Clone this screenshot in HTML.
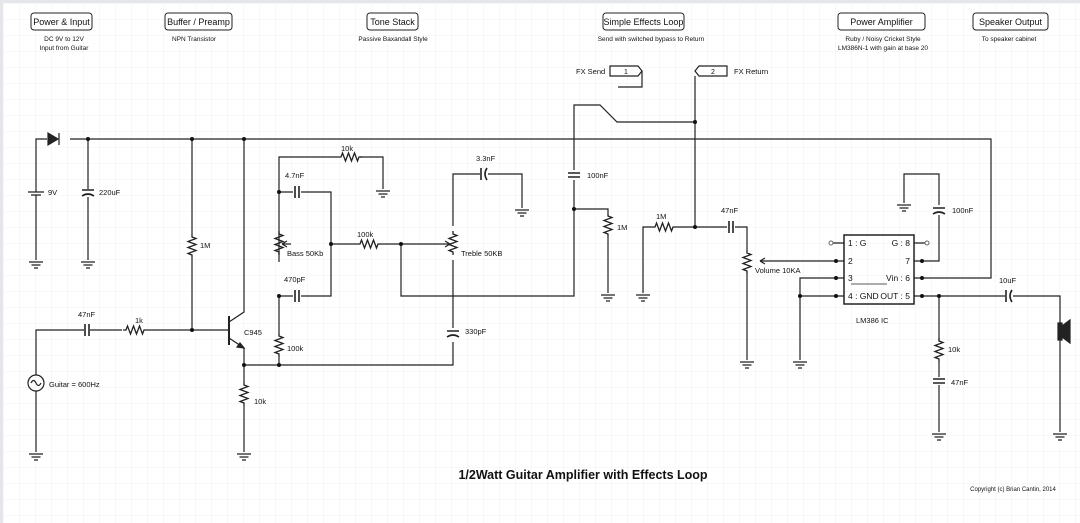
<!DOCTYPE html>
<html><head><meta charset="utf-8"><style>
html,body{margin:0;padding:0;background:#fff}
svg{display:block}
text{font-family:"Liberation Sans",sans-serif;fill:#111}
</style></head><body>
<svg width="1080" height="523" viewBox="0 0 1080 523" xmlns="http://www.w3.org/2000/svg">
<defs>
<pattern id="g" width="16" height="16" patternUnits="userSpaceOnUse" x="4" y="4">
<path d="M16 0V16M0 16H16" fill="none" stroke="#eef0f4" stroke-width="1"/>
</pattern>
<g id="gnd" stroke="#222" stroke-width="1.3" fill="none"><path d="M-7 0H7M-4.5 3H4.5M-2 6H2"/></g>
<path id="rv" d="M0 0v3l4 1.5l-8 3l8 3l-8 3l8 3l-8 3l4 1.5v3" fill="none" stroke="#222" stroke-width="1.3"/>
<path id="rh" d="M0 0h3l1.5 -4l3 8l3 -8l3 8l3 -8l3 8l1.5 -4h3" fill="none" stroke="#222" stroke-width="1.3"/>
<g id="ch" stroke="#222" stroke-width="1.6" fill="none"><path d="M-2 -6V6M2 -6V6"/></g>
<g id="cv" stroke="#222" stroke-width="1.6" fill="none"><path d="M-6 -2H6M-6 2H6"/></g>
<g id="cvp" stroke="#222" stroke-width="1.6" fill="none"><path d="M-6 -2H6M-6 4Q0 0 6 4"/></g>
<g id="chp" stroke="#222" stroke-width="1.6" fill="none"><path d="M-2 -6V6M4 -6Q0 0 4 6"/></g>
</defs>
<rect width="1080" height="523" fill="#fff"/>
<rect x="3" y="3" width="1077" height="520" fill="url(#g)"/>
<rect x="0" y="0" width="1080" height="3" fill="#e4e6ea"/>
<rect x="0" y="0" width="3" height="523" fill="#e4e6ea"/>

<!-- headers -->
<g font-size="9" text-anchor="middle">
<rect x="31" y="13" width="61" height="17" rx="3" fill="#fff" stroke="#222"/><text x="61.5" y="25">Power &amp; Input</text>
<rect x="165" y="13" width="67" height="17" rx="3" fill="#fff" stroke="#222"/><text x="198.5" y="25">Buffer / Preamp</text>
<rect x="367" y="13" width="51" height="17" rx="3" fill="#fff" stroke="#222"/><text x="392.5" y="25">Tone Stack</text>
<rect x="603" y="13" width="81" height="17" rx="3" fill="#fff" stroke="#222"/><text x="643.5" y="25">Simple Effects Loop</text>
<rect x="838" y="13" width="87" height="17" rx="3" fill="#fff" stroke="#222"/><text x="881.5" y="25">Power Amplifier</text>
<rect x="973" y="13" width="75" height="17" rx="3" fill="#fff" stroke="#222"/><text x="1010.5" y="25">Speaker Output</text>
</g>
<g font-size="6.5" text-anchor="middle">
<text x="64" y="41">DC 9V to 12V</text><text x="64" y="50">Input from Guitar</text>
<text x="194" y="41">NPN Transistor</text>
<text x="393" y="41">Passive Baxandall Style</text>
<text x="651" y="41">Send with switched bypass to Return</text>
<text x="883" y="41">Ruby / Noisy Cricket Style</text><text x="883" y="50">LM386N-1 with gain at base 20</text>
<text x="1009" y="41">To speaker cabinet</text>
</g>

<g stroke="#222" stroke-width="1.2" fill="none">
<!-- rail -->
<path d="M36 190V139H47M70 139H991V278H922"/>
<!-- diode -->
<path d="M48 133V145L58 139Z" fill="#222"/><path d="M59 133V145"/>
<!-- battery -->
<path d="M36 190V192M28 192H44M31 195H41M36 195V260"/>
<!-- 220uF -->
<path d="M88 139V189M88 197V260"/>
</g>
<use href="#cvp" x="88" y="192"/>
<use href="#gnd" x="36" y="262"/><use href="#gnd" x="88" y="262"/>

<g stroke="#222" stroke-width="1.2" fill="none">
<!-- input -->
<path d="M36 375V330H84M90 330H122M147 330H229M192 139V234M192 258V330"/>
<circle cx="36" cy="383" r="8"/>
<path d="M31 383q2.5 -5 5 0t5 0"/>
<path d="M36 391V452"/>
<!-- transistor -->
<path d="M229 316V345" stroke-width="2"/>
<path d="M229 322L244 312V139M229 338L244 348V365M244 365V382M244 406V452"/>
<path d="M244 348l-7 -1l3 -4z" fill="#222"/>
<path d="M244 365H453V342M453 328V260"/>
</g>
<use href="#ch" x="87" y="330"/>
<use href="#rh" x="123" y="330"/>
<use href="#rv" x="192" y="234"/>
<use href="#rv" x="244" y="382"/>
<use href="#gnd" x="36" y="454"/><use href="#gnd" x="244" y="454"/>

<!-- tone stack -->
<g stroke="#222" stroke-width="1.2" fill="none">
<path d="M279 365V357M279 333V296M279 262V157H338M360 157H383V189"/>
<path d="M279 192H293M301 192H331V296H301M293 296H279"/>
<path d="M331 244H357M381 244H443M401 244V296H574V180M574 170V105H600L617 122H695"/>
<path d="M453 226V174H480M488 174H522V208"/>
</g>
<use href="#rh" x="338" y="157"/>
<use href="#gnd" x="383" y="191"/>
<use href="#ch" x="297" y="192"/><use href="#ch" x="297" y="296"/>
<use href="#rv" x="279" y="333"/>
<use href="#rh" x="357" y="244"/>
<use href="#chp" x="483" y="174"/>
<use href="#gnd" x="522" y="210"/>
<use href="#cvp" x="453" y="333"/>
<!-- pots -->
<use href="#rv" x="279" y="231"/>
<path d="M291 244H282M282 244l5 -3M282 244l5 3" stroke="#222" stroke-width="1.2" fill="none"/>
<use href="#rv" x="453" y="231"/>
<path d="M443 244H450M450 244l-5 -3M450 244l-5 3" stroke="#222" stroke-width="1.2" fill="none"/>
<use href="#cv" x="574" y="175"/>

<!-- FX -->
<g stroke="#222" stroke-width="1.2" fill="none">
<path d="M574 209H608V213M608 237V293"/>
<path d="M643 293V227H652M676 227H727M735 227H747V250M747 274V360"/>
<path d="M695 227V76"/>
<path d="M610 66H638L642 71L638 76H610Z" fill="#fff"/>
<path d="M642 71V87H618"/>
<path d="M699 66H727V76H699L695 71Z" fill="#fff"/>
</g>
<use href="#rv" x="608" y="213"/>
<use href="#rh" x="652" y="227"/>
<use href="#ch" x="731" y="227"/>
<use href="#rv" x="747" y="250"/>
<path d="M836 261H760M760 261l5 -3M760 261l5 3" stroke="#222" stroke-width="1.2" fill="none"/>
<use href="#gnd" x="608" y="295"/><use href="#gnd" x="643" y="295"/><use href="#gnd" x="747" y="362"/>

<!-- IC -->
<g stroke="#222" stroke-width="1.2" fill="none">
<rect x="844" y="235" width="70" height="69" stroke-width="1.5"/>
<path d="M833 243H844M836 261H844M836 278H844M836 296H844M914 243H925M914 261H939V215M939 205V174H904V203M914 278H922M914 296H1005M1013 296H1060V323M1060 340V432"/>
<path d="M836 278H800V360M800 296H836"/>
<path d="M939 296V340M939 362V377M939 385V432"/>
<path d="M1058 323h4v17h-4z" fill="#222"/>
<path d="M1062 326l8 -6v23l-8 -6z" fill="#222"/>
<path d="M851 284H887" stroke-width="0.8"/>
</g>
<circle cx="831" cy="243" r="2" fill="#fff" stroke="#666"/><circle cx="927" cy="243" r="2" fill="#fff" stroke="#666"/>
<use href="#cvp" x="939" y="210"/>
<use href="#gnd" x="904" y="205"/>
<use href="#chp" x="1008" y="296"/>
<use href="#rv" x="939" y="338"/>
<use href="#cv" x="939" y="381"/>
<use href="#gnd" x="800" y="362"/><use href="#gnd" x="939" y="434"/><use href="#gnd" x="1060" y="434"/>

<!-- dots -->
<g fill="#111">
<circle cx="88" cy="139" r="2"/><circle cx="192" cy="139" r="2"/><circle cx="244" cy="139" r="2"/>
<circle cx="192" cy="330" r="2"/><circle cx="244" cy="365" r="2"/><circle cx="279" cy="365" r="2"/>
<circle cx="279" cy="192" r="2"/><circle cx="279" cy="296" r="2"/><circle cx="331" cy="244" r="2"/>
<circle cx="401" cy="244" r="2"/><circle cx="574" cy="209" r="2"/><circle cx="695" cy="122" r="2"/>
<circle cx="695" cy="227" r="2"/><circle cx="836" cy="261" r="2"/><circle cx="836" cy="278" r="2"/>
<circle cx="836" cy="296" r="2"/><circle cx="800" cy="296" r="2"/><circle cx="922" cy="296" r="2"/>
<circle cx="939" cy="296" r="2"/><circle cx="922" cy="278" r="2"/><circle cx="922" cy="261" r="2"/>
</g>

<!-- labels -->
<g font-size="7.5">
<text x="48" y="195">9V</text><text x="99" y="195">220uF</text>
<text x="78" y="317">47nF</text><text x="135" y="323">1k</text><text x="200" y="248">1M</text>
<text x="49" y="387">Guitar = 600Hz</text><text x="244" y="335">C945</text>
<text x="287" y="351">100k</text><text x="254" y="404">10k</text>
<text x="341" y="151">10k</text><text x="285" y="178">4.7nF</text><text x="287" y="256">Bass 50Kb</text>
<text x="284" y="282">470pF</text><text x="357" y="237">100k</text>
<text x="476" y="161">3.3nF</text><text x="461" y="256">Treble 50KB</text><text x="465" y="334">330pF</text>
<text x="587" y="178">100nF</text><text x="617" y="230">1M</text><text x="656" y="219">1M</text>
<text x="721" y="213">47nF</text><text x="755" y="273">Volume 10KA</text>
<text x="952" y="213">100nF</text><text x="999" y="283">10uF</text>
<text x="948" y="352">10k</text><text x="951" y="385">47nF</text>
<text x="856" y="323">LM386 IC</text>
<text x="576" y="74">FX Send</text><text x="734" y="74">FX Return</text>
</g>
<g font-size="7" text-anchor="middle"><text x="626" y="74">1</text><text x="713" y="74">2</text></g>
<g font-size="8.5">
<text x="848" y="246">1 : G</text><text x="848" y="264">2</text><text x="848" y="281">3</text>
<text x="848" y="299">4 : GND</text>
<text x="910" y="246" text-anchor="end">G : 8</text><text x="910" y="264" text-anchor="end">7</text>
<text x="910" y="281" text-anchor="end">Vin : 6</text><text x="910" y="299" text-anchor="end">OUT : 5</text>
</g>
<text x="583" y="479" font-size="12.5" font-weight="bold" text-anchor="middle">1/2Watt Guitar Amplifier with Effects Loop</text>
<text x="1013" y="491" font-size="6" text-anchor="middle">Copyright (c) Brian Cantin, 2014</text>
</svg>
</body></html>
